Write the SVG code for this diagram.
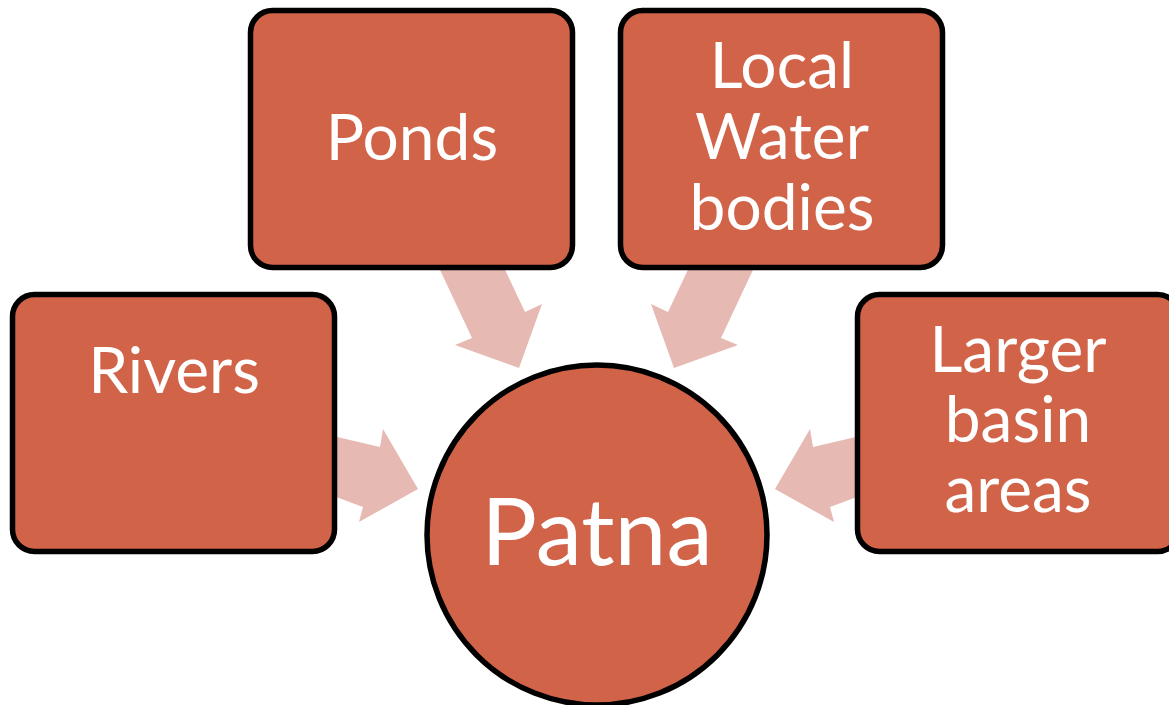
<svg xmlns="http://www.w3.org/2000/svg" width="1169" height="705" viewBox="0 0 1169 705">
<style>
.box{fill:#D16349;stroke:#000;stroke-width:5.5}
.arr{fill:#E6B9B2}
.t{fill:#fff;font-family:Lato,"Open Sans","Liberation Sans",sans-serif;font-size:64px;text-anchor:middle}
.big{font-size:93px}
</style>
<rect width="1169" height="705" fill="#fff"/>
<g id="connectors">
<polygon class="arr" points="426,240 491,240 525,312 542,304 519,368 455,345 472,338"/>
<polygon class="arr" points="767,240 702,240 668,312 651,304 674,368 738,345 721,338"/>
<polygon class="arr" points="320,433 380,447 383,429 418,489 359,522 363,507 320,491"/>
<polygon class="arr" points="873,433 813,447 810,429 775,489 834,522 830,507 873,491"/>
</g>
<g id="rivers">
<rect class="box" x="12.5" y="294.5" width="322" height="257" rx="22"/>
<text class="t" x="174" y="393">Rivers</text>
</g>
<g id="ponds">
<rect class="box" x="250.5" y="10.5" width="322" height="257" rx="22"/>
<text class="t" x="412" y="160">Ponds</text>
</g>
<g id="local">
<rect class="box" x="620.5" y="10.5" width="322" height="257" rx="22"/>
<text class="t" x="782" y="88">Local</text>
<text class="t" x="782" y="159">Water</text>
<text class="t" x="782" y="230">bodies</text>
</g>
<g id="larger">
<rect class="box" x="857.5" y="294.5" width="322" height="257" rx="22"/>
<text class="t" x="1018" y="372">Larger</text>
<text class="t" x="1018" y="442">basin</text>
<text class="t" x="1018" y="512">areas</text>
</g>
<g id="patna">
<circle class="box" cx="597" cy="535" r="170"/>
<text class="t big" x="597" y="565">Patna</text>
</g>
</svg>
